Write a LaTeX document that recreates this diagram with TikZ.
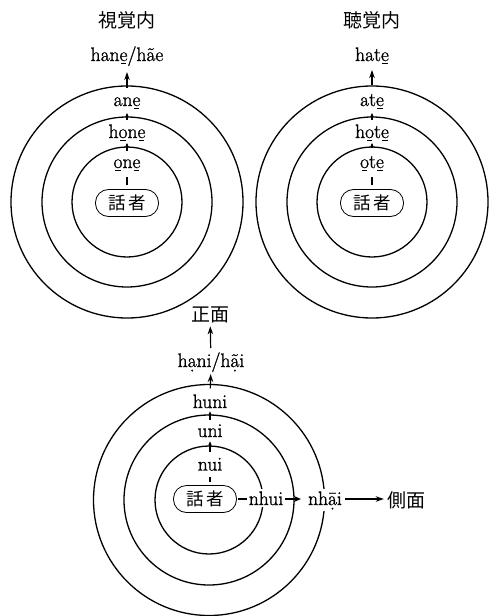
\documentclass[tikz,border=0pt]{standalone}
\usepackage{fontspec}
\newfontfamily\cjk{Noto Sans CJK JP}
\newfontfamily\latf{Latin Modern Roman}[FakeBold=1.2]
\usetikzlibrary{arrows.meta}
\newcommand\ub[1]{\ooalign{#1\cr\hidewidth\raisebox{-2.8pt}{\rule{5.5pt}{0.8pt}}\hidewidth\cr}}
\newcommand\db[1]{\ooalign{#1\cr\hidewidth\raisebox{-4.4pt}{.}\hidewidth\cr}}
\begin{document}
\begin{tikzpicture}[x=1pt,y=-1pt,
  ring/.style={line width=1.3pt},
  lat/.style={font={\latf\fontsize{19.5}{23}\selectfont}, inner sep=2pt, anchor=base, fill=white},
  jp/.style={font={\cjk\fontsize{19}{23}\selectfont}, inner sep=1pt},
  talker/.style={draw, line width=0.8pt, rounded corners=13pt, minimum width=63pt, minimum height=27pt, inner sep=0pt, font={\cjk\fontsize{17.5}{20}\selectfont}, fill=white},
  tick/.style={line width=1.2pt, -{Stealth[length=4pt,width=3.5pt]}},
  arr/.style={line width=1.2pt, -{Stealth[length=8pt,width=5.5pt]}},
  plain/.style={line width=1.2pt}]
\useasboundingbox (0,0) rectangle (489,616);
% circles
\foreach \r in {116,85,55} {
  \draw[ring] (127,202) circle[radius=\r pt];
  \draw[ring] (372,202) circle[radius=\r pt];
}
\foreach \r in {115.5,85,54} {
  \draw[ring] (209,500) circle[radius=\r pt];
}
% top left
\node[jp] (tvis) at (127,20) {視覚内};
\node[lat] (lh) at (127,61) {han\ub{e}/hãe};
\node[lat] (la) at (127,106) {an\ub{e}};
\node[lat] (lho) at (127,138) {h\ub{o}n\ub{e}};
\node[lat] (lo) at (127,168) {\ub{o}n\ub{e}};
\node[talker] (lt) at (127,203) {話\hspace{3pt}者};
\draw[plain, shorten <=4.5pt, shorten >=4pt] (lt) -- (lo);
\draw[tick, shorten <=6pt] (lo) -- (lho);
\draw[tick, shorten <=2pt, shorten >=2pt] (lho) -- (la);
\draw[arr, shorten <=7pt, shorten >=4pt] (la) -- (lh);
% top right
\node[jp] (taud) at (372,20) {聴覚内};
\node[lat] (rh) at (372,61) {hat\ub{e}};
\node[lat] (ra) at (372,106) {at\ub{e}};
\node[lat] (rho) at (372,138) {h\ub{o}t\ub{e}};
\node[lat] (ro) at (372,168) {\ub{o}t\ub{e}};
\node[talker] (rt) at (372,203) {話\hspace{3pt}者};
\draw[plain, shorten <=4.5pt, shorten >=4pt] (rt) -- (ro);
\draw[tick, shorten <=6pt] (ro) -- (rho);
\draw[tick, shorten <=2pt, shorten >=2pt] (rho) -- (ra);
\draw[arr, shorten <=7pt, shorten >=4pt] (ra) -- (rh);
% bottom
\node[jp] (front) at (210,315) {正面};
\node[lat] (bh) at (211,367) {h\db{a}ni/h\db{ã}i};
\node[lat] (bhu) at (210,408) {huni};
\node[lat] (bu) at (210,437) {uni};
\node[lat] (bn) at (210,470.5) {nui};
\node[talker] (bt) at (205,499) {話\hspace{3pt}者};
\node[lat] (bnh) at (266,505) {nhui};
\node[lat] (bna) at (325,505) {nh\db{ā}i};
\node[jp] (side) at (406,500) {側面};
\draw[plain, shorten <=3pt, shorten >=4.5pt] (bn |- bt.north) -- (bn);
\draw[tick, shorten <=4pt, shorten >=2pt] (bn) -- (bu);
\draw[tick, shorten <=2pt, shorten >=1pt] (bu) -- (bhu);
\draw[arr, shorten <=4pt] (bhu) -- (bh);
\draw[arr, shorten <=2pt, shorten >=2pt] (bh) -- (front);
\draw[plain, shorten <=1.5pt] (bt) -- (bnh.west |- bt);
\draw[line width=1.2pt, -{Stealth[length=7pt,width=6pt]}, shorten >=5pt] (bnh.east |- bt) -- (bna.west |- bt);
\draw[arr, shorten <=1pt, shorten >=2pt] (bna.east |- bt) -- (side.west |- bt);
\end{tikzpicture}
\end{document}
